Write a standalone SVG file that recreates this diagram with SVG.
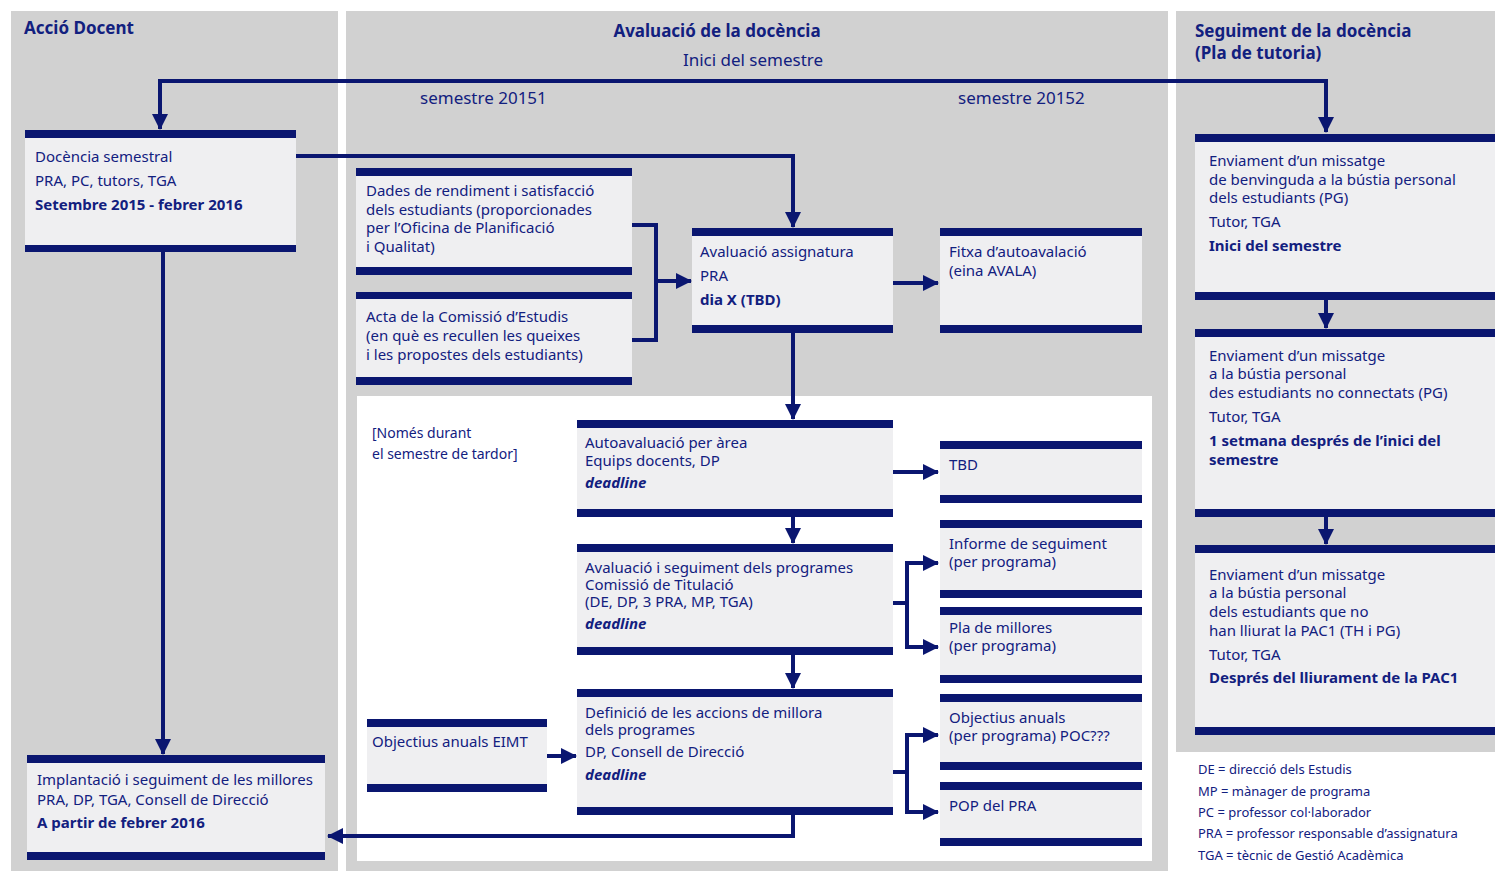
<svg xmlns="http://www.w3.org/2000/svg" width="1495" height="871" viewBox="0 0 1495 871">
<style>
.panel{fill:#d1d1d1}
.box{fill:#efeff1}
.bar{fill:#0a1670}
text{font-family:"Noto Sans","Open Sans",sans-serif;fill:#12207f;font-size:15px}
.b{font-weight:bold}
.bi{font-weight:bold;font-style:italic}
.h{font-size:17px;font-weight:bold}
.sub{font-size:17px}
.leg{font-size:13px}
.c{fill:none;stroke:#0a1670;stroke-width:4;marker-end:url(#ah)}
</style>
<defs>
<marker id="ah" markerUnits="userSpaceOnUse" markerWidth="16" markerHeight="16" refX="15" refY="8" orient="auto-start-reverse">
<path d="M0,0 L16,8 L0,16 z" fill="#0a1670"/>
</marker>
</defs>
<rect width="1495" height="871" fill="#ffffff"/>
<g id="panels">
<rect class="panel" x="11" y="11" width="327" height="860"/>
<rect class="panel" x="346" y="11" width="822" height="860"/>
<rect class="panel" x="1176" y="11" width="319" height="741"/>
<rect x="357" y="396" width="795" height="465" fill="#ffffff"/>
</g>
<g id="headers">
<text class="h" x="24" y="34">Acció Docent</text>
<text class="h" x="717" y="37" text-anchor="middle">Avaluació de la docència</text>
<text class="sub" x="753" y="66" text-anchor="middle">Inici del semestre</text>
<text class="sub" x="420" y="104">semestre 20151</text>
<text class="sub" x="958" y="104">semestre 20152</text>
<text class="h" x="1195" y="37">Seguiment de la docència</text>
<text class="h" x="1195" y="59">(Pla de tutoria)</text>
</g>
<g id="connectors">
<path class="c" style="marker-start:url(#ah)" d="M160,129 V81 H1326 V132"/>
<path class="c" d="M296,156 H793 V227"/>
<path class="c" d="M163,252 V754"/>
<path class="c" style="marker-end:none" d="M632,225 H656 V340 H632"/>
<path class="c" d="M656,281 H691"/>
<path class="c" d="M893,283 H938"/>
<path class="c" d="M793,333 V419"/>
<path class="c" d="M893,472 H938"/>
<path class="c" d="M793,517 V543"/>
<path class="c" style="marker-end:none" d="M893,603 H907"/>
<path class="c" d="M907,603 V563 H938"/>
<path class="c" d="M907,603 V647 H938"/>
<path class="c" d="M793,655 V688"/>
<path class="c" d="M547,756 H576"/>
<path class="c" style="marker-end:none" d="M893,772 H907"/>
<path class="c" d="M907,772 V735 H938"/>
<path class="c" d="M907,772 V812 H938"/>
<path class="c" d="M793,815 V836 H328"/>
<path class="c" d="M1326,300 V328"/>
<path class="c" d="M1326,517 V544"/>
</g>
<g id="n-docencia">
<rect class="box" x="25" y="130" width="271" height="122"/>
<rect class="bar" x="25" y="130" width="271" height="8"/>
<rect class="bar" x="25" y="245" width="271" height="7"/>
<text x="35" y="162">Docència semestral</text>
<text x="35" y="186">PRA, PC, tutors, TGA</text>
<text class="b" x="35" y="210">Setembre 2015 - febrer 2016</text>
</g>
<g id="n-dades">
<rect class="box" x="356" y="168" width="276" height="107"/>
<rect class="bar" x="356" y="168" width="276" height="8"/>
<rect class="bar" x="356" y="267" width="276" height="8"/>
<text x="366" y="196">Dades de rendiment i satisfacció</text>
<text x="366" y="215">dels estudiants (proporcionades</text>
<text x="366" y="233">per l’Oficina de Planificació</text>
<text x="366" y="252">i Qualitat)</text>
</g>
<g id="n-acta">
<rect class="box" x="356" y="292" width="276" height="93"/>
<rect class="bar" x="356" y="292" width="276" height="7"/>
<rect class="bar" x="356" y="377" width="276" height="8"/>
<text x="366" y="322">Acta de la Comissió d’Estudis</text>
<text x="366" y="341">(en què es recullen les queixes</text>
<text x="366" y="360">i les propostes dels estudiants)</text>
</g>
<g id="n-avaluacio">
<rect class="box" x="692" y="228" width="201" height="105"/>
<rect class="bar" x="692" y="228" width="201" height="8"/>
<rect class="bar" x="692" y="325" width="201" height="8"/>
<text x="700" y="257">Avaluació assignatura</text>
<text x="700" y="281">PRA</text>
<text class="b" x="700" y="305">dia X (TBD)</text>
</g>
<g id="n-fitxa">
<rect class="box" x="940" y="228" width="202" height="105"/>
<rect class="bar" x="940" y="228" width="202" height="8"/>
<rect class="bar" x="940" y="325" width="202" height="8"/>
<text x="949" y="257">Fitxa d’autoavalació</text>
<text x="949" y="276">(eina AVALA)</text>
</g>
<g id="n-nomes">
<text x="372" y="438" style="font-size:14px">[Només durant</text>
<text x="372" y="459" style="font-size:14px">el semestre de tardor]</text>
</g>
<g id="n-autoaval">
<rect class="box" x="577" y="420" width="316" height="97"/>
<rect class="bar" x="577" y="420" width="316" height="8"/>
<rect class="bar" x="577" y="509" width="316" height="8"/>
<text x="585" y="448">Autoavaluació per àrea</text>
<text x="585" y="466">Equips docents, DP</text>
<text class="bi" x="585" y="488">deadline</text>
</g>
<g id="n-tbd">
<rect class="box" x="940" y="441" width="202" height="62"/>
<rect class="bar" x="940" y="441" width="202" height="8"/>
<rect class="bar" x="940" y="495" width="202" height="8"/>
<text x="949" y="470">TBD</text>
</g>
<g id="n-avalseg">
<rect class="box" x="577" y="544" width="316" height="111"/>
<rect class="bar" x="577" y="544" width="316" height="8"/>
<rect class="bar" x="577" y="647" width="316" height="8"/>
<text x="585" y="573">Avaluació i seguiment dels programes</text>
<text x="585" y="590">Comissió de Titulació</text>
<text x="585" y="607">(DE, DP, 3 PRA, MP, TGA)</text>
<text class="bi" x="585" y="629">deadline</text>
</g>
<g id="n-informe">
<rect class="box" x="940" y="520" width="202" height="78"/>
<rect class="bar" x="940" y="520" width="202" height="8"/>
<rect class="bar" x="940" y="590" width="202" height="8"/>
<text x="949" y="549">Informe de seguiment</text>
<text x="949" y="567">(per programa)</text>
</g>
<g id="n-pla">
<rect class="box" x="940" y="607" width="202" height="76"/>
<rect class="bar" x="940" y="607" width="202" height="8"/>
<rect class="bar" x="940" y="675" width="202" height="8"/>
<text x="949" y="633">Pla de millores</text>
<text x="949" y="651">(per programa)</text>
</g>
<g id="n-definicio">
<rect class="box" x="577" y="689" width="316" height="126"/>
<rect class="bar" x="577" y="689" width="316" height="8"/>
<rect class="bar" x="577" y="807" width="316" height="8"/>
<text x="585" y="718">Definició de les accions de millora</text>
<text x="585" y="735">dels programes</text>
<text x="585" y="757">DP, Consell de Direcció</text>
<text class="bi" x="585" y="780">deadline</text>
</g>
<g id="n-eimt">
<rect class="box" x="367" y="719" width="180" height="73"/>
<rect class="bar" x="367" y="719" width="180" height="8"/>
<rect class="bar" x="367" y="784" width="180" height="8"/>
<text x="372" y="747">Objectius anuals EIMT</text>
</g>
<g id="n-objectius">
<rect class="box" x="940" y="694" width="202" height="76"/>
<rect class="bar" x="940" y="694" width="202" height="8"/>
<rect class="bar" x="940" y="762" width="202" height="8"/>
<text x="949" y="723">Objectius anuals</text>
<text x="949" y="741">(per programa) POC???</text>
</g>
<g id="n-pop">
<rect class="box" x="940" y="782" width="202" height="64"/>
<rect class="bar" x="940" y="782" width="202" height="8"/>
<rect class="bar" x="940" y="838" width="202" height="8"/>
<text x="949" y="811">POP del PRA</text>
</g>
<g id="n-implantacio">
<rect class="box" x="27" y="755" width="298" height="105"/>
<rect class="bar" x="27" y="755" width="298" height="8"/>
<rect class="bar" x="27" y="852" width="298" height="8"/>
<text x="37" y="785">Implantació i seguiment de les millores</text>
<text x="37" y="805">PRA, DP, TGA, Consell de Direcció</text>
<text class="b" x="37" y="828">A partir de febrer 2016</text>
</g>
<g id="n-env1">
<rect class="box" x="1195" y="134" width="300" height="166"/>
<rect class="bar" x="1195" y="134" width="300" height="8"/>
<rect class="bar" x="1195" y="292" width="300" height="8"/>
<text x="1209" y="166">Enviament d’un missatge</text>
<text x="1209" y="185">de benvinguda a la bústia personal</text>
<text x="1209" y="203">dels estudiants (PG)</text>
<text x="1209" y="227">Tutor, TGA</text>
<text class="b" x="1209" y="251">Inici del semestre</text>
</g>
<g id="n-env2">
<rect class="box" x="1195" y="329" width="300" height="188"/>
<rect class="bar" x="1195" y="329" width="300" height="8"/>
<rect class="bar" x="1195" y="509" width="300" height="8"/>
<text x="1209" y="361">Enviament d’un missatge</text>
<text x="1209" y="379">a la bústia personal</text>
<text x="1209" y="398">des estudiants no connectats (PG)</text>
<text x="1209" y="422">Tutor, TGA</text>
<text class="b" x="1209" y="446">1 setmana després de l’inici del</text>
<text class="b" x="1209" y="465">semestre</text>
</g>
<g id="n-env3">
<rect class="box" x="1195" y="545" width="300" height="190"/>
<rect class="bar" x="1195" y="545" width="300" height="8"/>
<rect class="bar" x="1195" y="727" width="300" height="8"/>
<text x="1209" y="580">Enviament d’un missatge</text>
<text x="1209" y="598">a la bústia personal</text>
<text x="1209" y="617">dels estudiants que no</text>
<text x="1209" y="636">han lliurat la PAC1 (TH i PG)</text>
<text x="1209" y="660">Tutor, TGA</text>
<text class="b" x="1209" y="683">Després del lliurament de la PAC1</text>
</g>
<g id="legend">
<text class="leg" x="1198" y="774">DE = direcció dels Estudis</text>
<text class="leg" x="1198" y="796">MP = mànager de programa</text>
<text class="leg" x="1198" y="817">PC = professor col·laborador</text>
<text class="leg" x="1198" y="838">PRA = professor responsable d’assignatura</text>
<text class="leg" x="1198" y="860">TGA = tècnic de Gestió Acadèmica</text>
</g>
</svg>
